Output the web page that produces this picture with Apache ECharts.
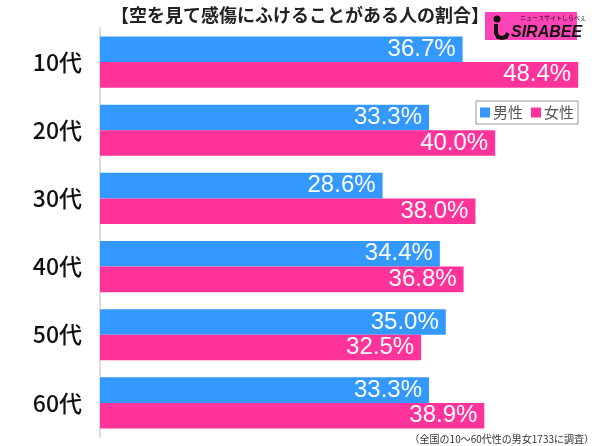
<!DOCTYPE html>
<html><head><meta charset="utf-8">
<script src="https://cdn.jsdelivr.net/npm/echarts@6/dist/echarts.min.js"></script>
<style>html,body{margin:0;padding:0;background:#fff}#c{width:600px;height:446px}</style>
</head><body><div id="c"></div>
<script>
var categories = ['10代','20代','30代','40代','50代','60代'];
var male = [36.7, 33.3, 28.6, 34.4, 35.0, 33.3];
var female = [48.4, 40.0, 38.0, 36.8, 32.5, 38.9];
var seriesNames = ['男性','女性'];
var title = '【空を見て感傷にふけることがある人の割合】';
var footnote = '（全国の10～60代性の男女1733に調査）';

var chart = echarts.init(document.getElementById('c'));
var font = '"Noto Sans CJK JP", "Noto Sans", sans-serif';
function lbl(){return {show:true,position:'insideRight',distance:7,color:'#fff',fontSize:24,fontFamily:'"Liberation Sans", Arial, sans-serif',formatter:function(p){return p.value.toFixed(1)+'%';}};}
chart.setOption({
  animation:false,
  grid:{left:100,right:6,top:28,bottom:9},
  xAxis:{type:'value',min:0,max:50,show:false},
  yAxis:{type:'category',data:categories,inverse:true,
    axisLine:{show:true,lineStyle:{color:'#dddddd',width:2}},axisTick:{show:false},
    axisLabel:{color:'#111',fontSize:23,fontWeight:500,fontFamily:font,margin:18}},
  legend:{data:seriesNames,right:22,top:101,orient:'horizontal',itemWidth:10,itemHeight:10,itemGap:8,
    icon:'rect',borderColor:'#999',borderWidth:1,borderRadius:0,padding:[4,4,4,4],
    textStyle:{fontSize:15,color:'#555',fontFamily:font,padding:[0,0,0,-2]}},
  title:{text:title,left:'center',top:1,textStyle:{fontSize:18,fontWeight:'bold',color:'#222',fontFamily:font}},
  series:[
    {name:seriesNames[0],type:'bar',data:male,barCategoryGap:'25%',barGap:'0%',itemStyle:{color:'#3399ff'},label:lbl()},
    {name:seriesNames[1],type:'bar',data:female,barCategoryGap:'25%',barGap:'0%',itemStyle:{color:'#ff3399'},label:lbl()}
  ],
  graphic:[
    {type:'rect',shape:{x:485,y:12,width:92,height:28},style:{fill:'#ff44b8'}},
    {type:'circle',shape:{cx:497,cy:19,r:3.5},style:{fill:'#111'}},
    {type:'polyline',shape:{points:[[496,24],[496,33],[498,37],[502,38],[506,37],[508,33]]},style:{stroke:'#111',lineWidth:4,fill:null}},
    {type:'text',x:511,y:25,style:{text:'SIRABEE',fontSize:16,fontWeight:'bold',fontStyle:'italic',fill:'#111',fontFamily:'"Liberation Sans", sans-serif'}},
    {type:'text',x:520,y:15,style:{text:'ニュースサイトしらべぇ',fontSize:6,fill:'#111',fontFamily:font}},
    {type:'text',right:6,bottom:2,style:{text:footnote,fontSize:10,fill:'#333',fontFamily:font}}
  ]
});
</script></body></html>
